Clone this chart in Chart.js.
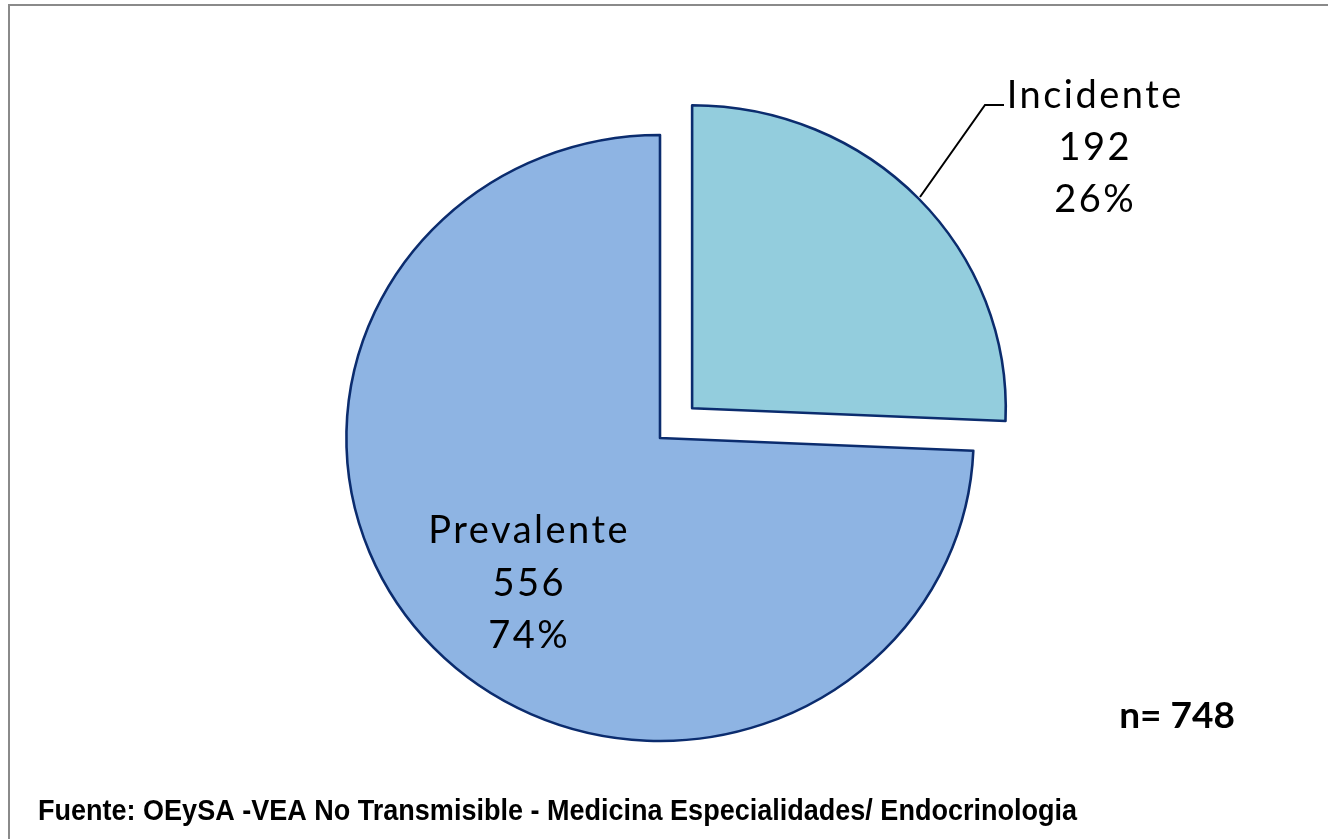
<!DOCTYPE html>
<html>
<head>
<meta charset="utf-8">
<script src="https://cdn.jsdelivr.net/npm/chart.js@4.4.1/dist/chart.umd.min.js"></script>
<style>
  html, body { margin: 0; padding: 0; background: #ffffff; }
  #wrap { position: relative; width: 1328px; height: 839px; overflow: hidden; }
  canvas { display: block; }
</style>
</head>
<body>
<div id="wrap"><canvas id="pie" width="1328" height="839"></canvas></div>
<script>
// Patients by case type
const categories = ['Incidente', 'Prevalente'];
const counts = [192, 556];
const sourceNote = 'Fuente: OEySA -VEA No Transmisible - Medicina Especialidades/ Endocrinologia';

const total = counts.reduce((a, b) => a + b, 0);
const percents = counts.map(v => Math.round(v / total * 100) + '%');

const LABEL_FONT = 'Lato, "Open Sans", sans-serif';
const STRETCH_X = 1.035;

// Slight horizontal stretch of the pie (drawn as a flat ellipse)
const stretchPlugin = {
  id: 'stretch',
  beforeDatasetsDraw(chart) {
    const arc = chart.getDatasetMeta(0).data[0];
    const ctx = chart.ctx;
    ctx.save();
    ctx.translate(arc.x, arc.y);
    ctx.scale(STRETCH_X, 1);
    ctx.translate(-arc.x, -arc.y);
  },
  afterDatasetsDraw(chart) {
    chart.ctx.restore();
  }
};

function drawLines(ctx, lines, x, y0, step, font, spacing) {
  ctx.font = font;
  ctx.letterSpacing = spacing + 'px';
  ctx.textAlign = 'center';
  ctx.textBaseline = 'alphabetic';
  lines.forEach((t, i) => ctx.fillText(t, x + spacing / 2, y0 + i * step));
  ctx.letterSpacing = '0px';
}

const annotationPlugin = {
  id: 'annotations',
  beforeDraw(chart) {
    const ctx = chart.ctx;
    ctx.save();
    ctx.fillStyle = '#ffffff';
    ctx.fillRect(0, 0, chart.width, chart.height);
    // outer frame
    ctx.strokeStyle = '#8a8a8a';
    ctx.lineWidth = 2;
    ctx.strokeRect(9, 5, 2000, 2000);
    ctx.restore();
  },
  afterDraw(chart) {
    const ctx = chart.ctx;
    ctx.save();
    ctx.fillStyle = '#000000';

    // leader line for the detached slice
    ctx.strokeStyle = '#000000';
    ctx.lineWidth = 2;
    ctx.beginPath();
    ctx.moveTo(920, 197);
    ctx.lineTo(985, 105);
    ctx.lineTo(1004, 105);
    ctx.stroke();

    // data labels
    drawLines(ctx, [categories[0], String(counts[0]), percents[0]], 1094, 108, 52, '38px ' + LABEL_FONT, 2.5);
    drawLines(ctx, [categories[1], String(counts[1]), percents[1]], 528, 543, 52.5, '38px ' + LABEL_FONT, 2.5);

    // sample size
    ctx.font = 'bold 37px ' + LABEL_FONT;
    ctx.textAlign = 'center';
    ctx.fillText('n= ' + total, 1177, 728);

    // source note, condensed to its column width
    ctx.font = 'bold 29px "Liberation Sans", Arial, sans-serif';
    ctx.textAlign = 'left';
    const w = ctx.measureText(sourceNote).width;
    const sx = 1039 / w;
    ctx.translate(38, 820);
    ctx.scale(sx, 1);
    ctx.fillText(sourceNote, 0, 0);
    ctx.restore();
  }
};

new Chart(document.getElementById('pie'), {
  type: 'pie',
  data: {
    labels: categories,
    datasets: [{
      data: counts,
      backgroundColor: ['#93CDDD', '#8EB4E3'],
      borderColor: '#0B2C6E',
      borderWidth: 2.5,
      borderJoinStyle: 'round',
      offset: [172, 0]
    }]
  },
  options: {
    responsive: false,
    animation: false,
    radius: 303,
    layout: { padding: { left: 0, right: 8, top: 37, bottom: 0 } },
    plugins: {
      legend: { display: false },
      tooltip: { enabled: false },
      title: { display: false }
    },
    events: []
  },
  plugins: [annotationPlugin, stretchPlugin]
});
</script>
</body>
</html>
